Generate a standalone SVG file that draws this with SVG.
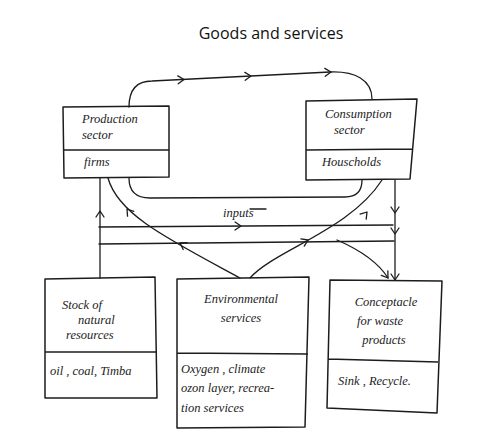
<svg xmlns="http://www.w3.org/2000/svg" width="487" height="447" viewBox="0 0 487 447">
<style>
.ln{fill:none;stroke:#1c1c1c;stroke-width:1.3;stroke-linecap:round;stroke-linejoin:round}
.bx{fill:none;stroke:#1c1c1c;stroke-width:1.5;stroke-linejoin:round}
.hw{font-family:"Liberation Serif",serif;font-style:italic;font-size:12.5px;fill:#1c1c1c}
.title{font-family:"Open Sans","Liberation Sans",sans-serif;font-size:16px;fill:#111}
</style>
<defs>
<path id="chev" class="ln" d="M-6,-4 L0,0 L-6,4"/>
</defs>
<rect width="487" height="447" fill="#fff"/>
<text class="title" x="271" y="39" text-anchor="middle">Goods and services</text>

<g id="connectors">
<path class="ln" d="M129,107 C129,88 138,81 152,81 L330,72 C355,71 372,80 372,99"/>
<use href="#chev" transform="translate(184,79.5) rotate(-3)"/>
<use href="#chev" transform="translate(251,76) rotate(-3)"/>
<use href="#chev" transform="translate(331,72) rotate(-3)"/>
<path class="ln" d="M129,178 C129,192 136,198 150,198 L345,197 C357,197 362,190 362,180"/>
<text class="hw" x="223" y="217">inputs</text>
<path class="ln" d="M250,209 L266,209"/>
<path class="ln" d="M99,227 L393,225"/>
<use href="#chev" transform="translate(241,226)"/>
<path class="ln" d="M99,244 L394,241"/>
<path class="ln" d="M100,178 L100,278"/>
<use href="#chev" transform="translate(100,211) rotate(-90)"/>
<path class="ln" d="M395,180 L395,280"/>
<use href="#chev" transform="translate(395,213) rotate(90)"/>
<use href="#chev" transform="translate(395,234) rotate(90)"/>
<use href="#chev" transform="translate(395,280) rotate(90)"/>
<path class="ln" d="M108,178 C118,215 170,240 240,278"/>
<use href="#chev" transform="translate(127,209) rotate(-128)"/>
<use href="#chev" transform="translate(180,243) rotate(-150)"/>
<path class="ln" d="M250,278 C275,250 350,230 382,180"/>
<use href="#chev" transform="translate(308,240) rotate(-25)"/>
<use href="#chev" transform="translate(367,212) rotate(-50)"/>
<path class="ln" d="M337,240 C360,250 378,262 388,278"/>
<use href="#chev" transform="translate(388,278) rotate(55)"/>
</g>

<g id="production">
<path class="bx" d="M63,107 L169,106 L169,177 L64,178 Z M63,150 L169,150"/>
<text class="hw" x="82" y="123">Production</text>
<text class="hw" x="82" y="139">sector</text>
<text class="hw" x="84" y="166">firms</text>
</g>

<g id="consumption">
<path class="bx" d="M306,101 L417,99 L410,179 L306,180 Z M306,150 L413,149"/>
<text class="hw" x="325" y="118">Consumption</text>
<text class="hw" x="334" y="134">sector</text>
<text class="hw" x="322" y="166">Houscholds</text>
</g>

<g id="stock">
<path class="bx" d="M45,279 L155,277 L157,398 L45,398 Z M45,352 L156,352"/>
<text class="hw" x="62" y="309">Stock   of</text>
<text class="hw" x="78" y="324">natural</text>
<text class="hw" x="66" y="339">resources</text>
<text class="hw" x="50" y="375">oil , coal, Timba</text>
</g>

<g id="environmental">
<path class="bx" d="M177,279 L309,277 L305,427 L177,428 Z M177,353 L308,354"/>
<text class="hw" x="241" y="303" text-anchor="middle">Environmental</text>
<text class="hw" x="241" y="322" text-anchor="middle">services</text>
<text class="hw" x="181" y="373">Oxygen  ,  climate</text>
<text class="hw" x="181" y="392">ozon layer, recrea-</text>
<text class="hw" x="181" y="412">tion   services</text>
</g>

<g id="receptacle">
<path class="bx" d="M330,280 L442,281 L437,413 L327,408 Z M328,359 L438,362"/>
<text class="hw" x="386" y="306" text-anchor="middle">Conceptacle</text>
<text class="hw" x="380" y="325" text-anchor="middle">for waste</text>
<text class="hw" x="384" y="344" text-anchor="middle">products</text>
<text class="hw" x="338" y="385">Sink , Recycle.</text>
</g>
</svg>
